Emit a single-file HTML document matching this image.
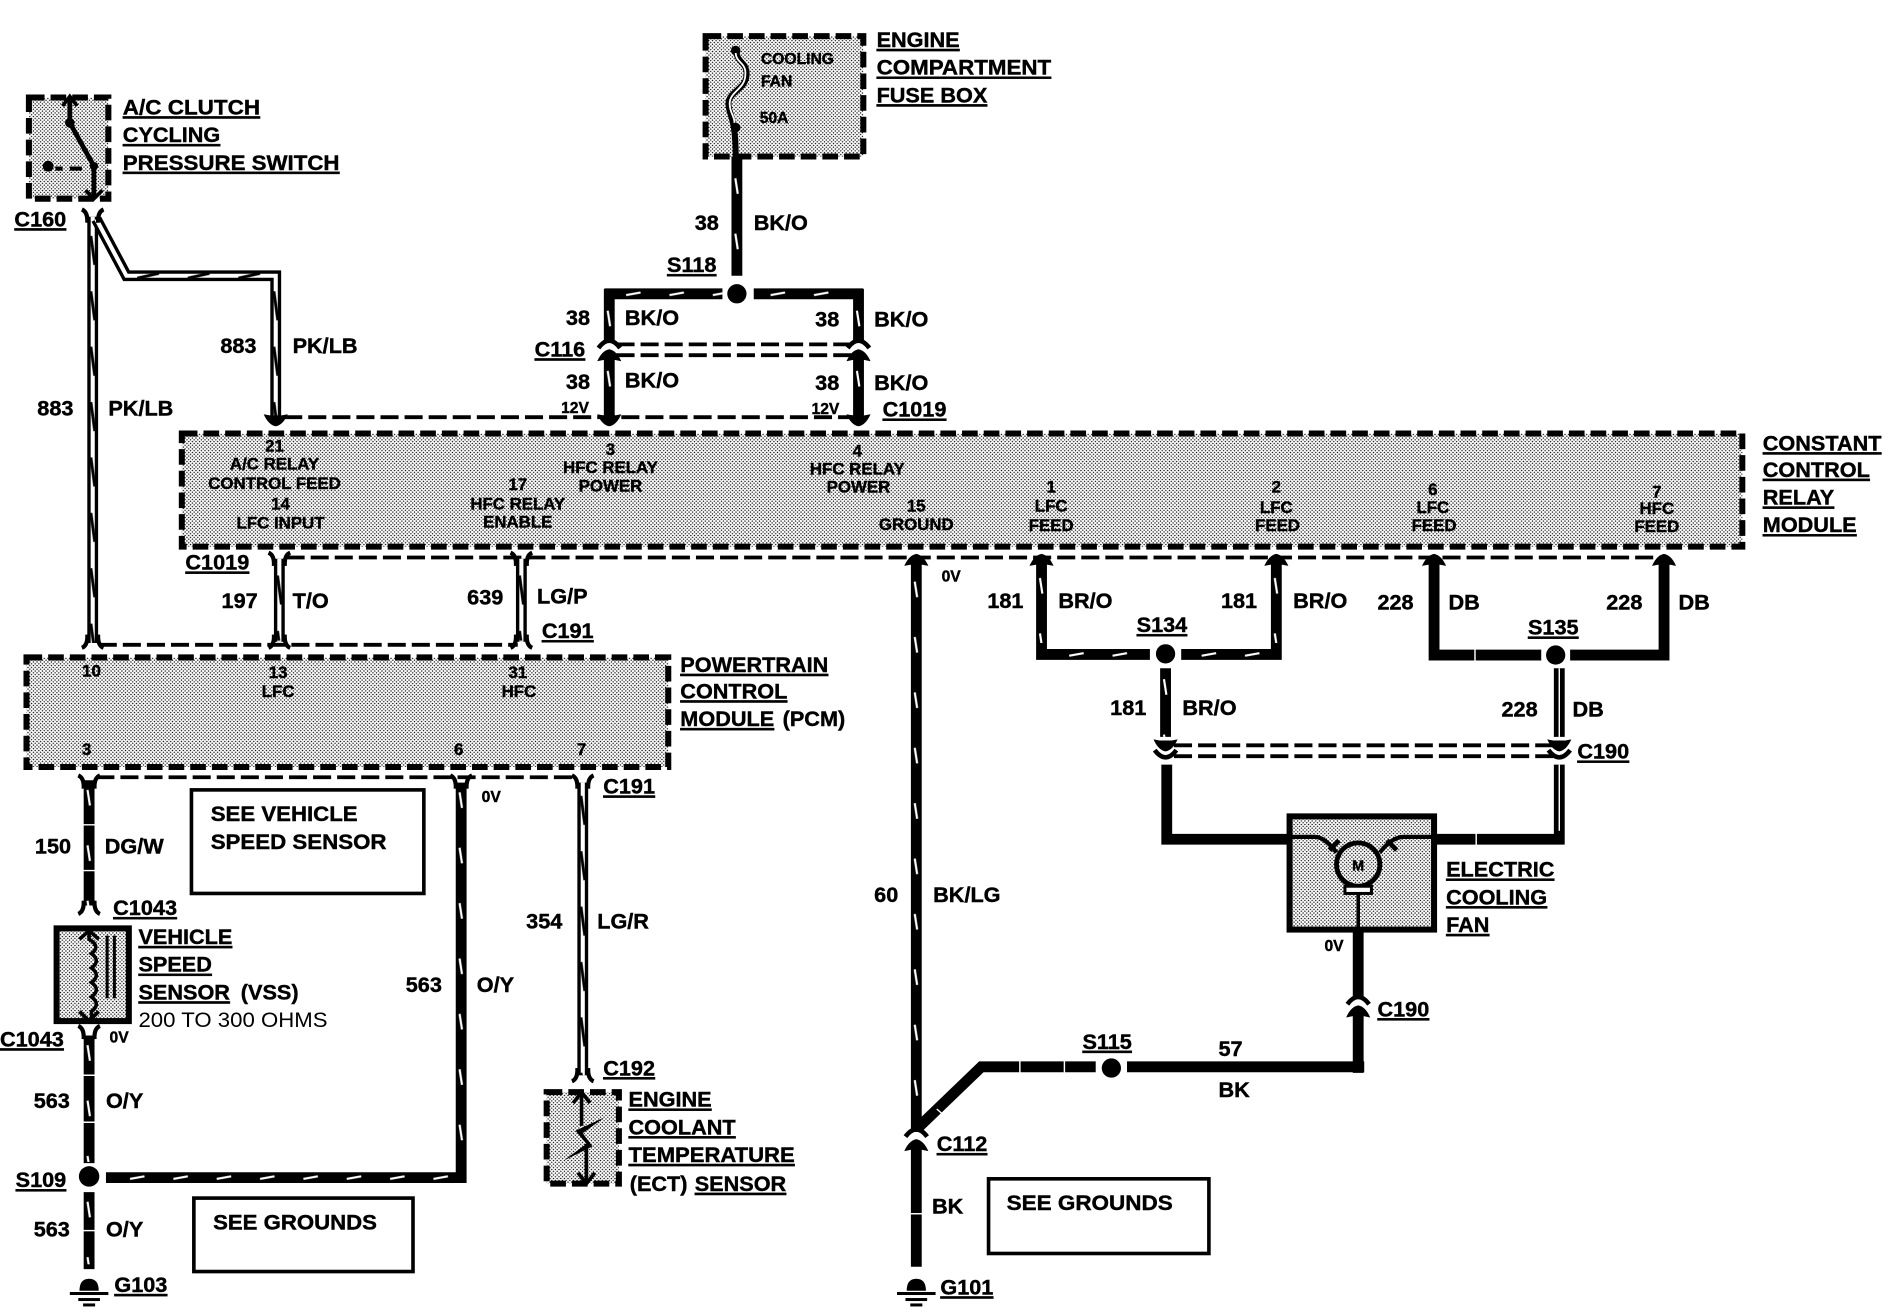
<!DOCTYPE html>
<html><head><meta charset="utf-8"><title>Cooling fan wiring diagram</title>
<style>
html,body{margin:0;padding:0;background:#fff;width:1888px;height:1312px;overflow:hidden}
svg{display:block}
text{font-family:"Liberation Sans",sans-serif;font-weight:bold;font-size:18px;fill:#000;stroke:#000;stroke-width:.35px}
.u{text-decoration:underline}
.s{font-size:14px;text-anchor:middle}
.v{font-size:13px}
.r{font-weight:normal}
.w{stroke:#000;stroke-width:9;fill:none}
.h{stroke:#fff;stroke-width:3.4;fill:none}
.d{stroke:#000;stroke-width:3.2;stroke-dasharray:15 5;fill:none}
.b{fill:url(#st);stroke:#000;stroke-width:5;stroke-dasharray:13 5;stroke-linecap:butt}
.g{stroke:#fff;stroke-width:1.2;fill:none}
</style></head><body>
<svg width="1888" height="1312" viewBox="0 0 1568 1089.6" preserveAspectRatio="none" xmlns="http://www.w3.org/2000/svg">
<defs>
<pattern id="st" patternUnits="userSpaceOnUse" width="3" height="3">
<rect width="3" height="3" fill="#fff"/>
<circle cx=".75" cy=".75" r=".6" fill="#000"/><circle cx="2.25" cy="2.25" r=".6" fill="#000"/>
</pattern>
<pattern id="tv" patternUnits="userSpaceOnUse" width="9" height="46"><path d="M3.2 8L5.2 21" stroke="#fff" stroke-width="1.8"/></pattern>
<pattern id="th" patternUnits="userSpaceOnUse" width="36" height="9"><path d="M8 5.6L20 3.4" stroke="#fff" stroke-width="1.8"/></pattern>
<pattern id="kv" patternUnits="userSpaceOnUse" width="9" height="46"><path d="M3 6L6.2 30" stroke="#000" stroke-width="2.4"/></pattern>
<pattern id="kh" patternUnits="userSpaceOnUse" width="42" height="9"><path d="M6 6.5L24 2.5" stroke="#000" stroke-width="2.4"/></pattern>
<path id="au" d="M0 -6Q6 -5 10 4L5 3L-5 3L-10 4Q-6 -5 0 -6Z"/>
<path id="ad" d="M0 6Q6 5 10 -4L5 -3L-5 -3L-10 -4Q-6 5 0 6Z"/>
<path id="ct" d="M-9 4Q0 -8 9 4" fill="none" stroke="#000" stroke-width="3.8"/>
<path id="cb" d="M-9 -4Q0 8 9 -4" fill="none" stroke="#000" stroke-width="3.8"/>
<path id="fb" d="M-9 4Q-4 2 -4.5 -7M9 4Q4 2 4.5 -7" fill="none" stroke="#000" stroke-width="3.5"/>
<path id="ft" d="M-9 -4Q-4 -2 -4.5 7M9 -4Q4 -2 4.5 7" fill="none" stroke="#000" stroke-width="3.5"/>
<g id="gnd"><path d="M-8 0Q-8 -10 0 -10Q8 -10 8 0Z"/><rect x="-16" y="1" width="32" height="2.5"/><rect x="-9" y="6" width="18" height="2.5"/><rect x="-5" y="10.5" width="10" height="2.5"/></g>
</defs>

<!-- component boxes -->
<rect class="b" x="24" y="81" width="66" height="84"/>
<rect class="b" x="586" y="30" width="131" height="100"/>
<rect class="b" x="151" y="360" width="1296" height="94"/>
<rect class="b" x="22" y="546" width="533" height="91"/>
<rect x="1071" y="678" width="120" height="94" fill="url(#st)" stroke="#000" stroke-width="5"/>
<rect x="47" y="771" width="60" height="77" fill="url(#st)" stroke="#000" stroke-width="5"/>
<rect class="b" x="454" y="907" width="60" height="76"/>

<!-- information boxes -->
<rect x="159" y="656" width="193" height="86" fill="#fff" stroke="#000" stroke-width="3"/>
<rect x="161" y="995" width="182" height="61" fill="#fff" stroke="#000" stroke-width="3"/>
<rect x="821" y="979" width="183" height="62" fill="#fff" stroke="#000" stroke-width="3"/>

<!-- dashed connector lines -->
<path class="d" d="M236 346.5H710"/>
<path class="d" d="M512 286H708M512 295H708"/>
<path class="d" d="M238 463H1382"/>
<path class="d" d="M82 535.5H430"/>
<path class="d" d="M80 645.5H480"/>
<path class="d" d="M975 619H1290M975 628H1290"/>

<!-- 883 wires -->
<path class="w" d="M77 180V534"/><path class="h" d="M77 180V534"/>
<rect transform="translate(72.5,190)" width="9" height="344" fill="url(#kv)"/>
<path class="w" d="M80 182L105 229H229V346"/><path class="h" d="M80 182L105 229H229V346"/>
<rect transform="translate(108,224.5)" width="120" height="9" fill="url(#kh)"/>
<rect transform="translate(224.5,236)" width="9" height="110" fill="url(#kv)"/>
<!-- 197 / 639 / 354 -->
<path class="w" d="M232 464V533"/><path class="h" d="M232 464V533"/><rect transform="translate(227.5,472)" width="9" height="60" fill="url(#kv)"/>
<path class="w" d="M433 464V533"/><path class="h" d="M433 464V533"/><rect transform="translate(428.5,472)" width="9" height="60" fill="url(#kv)"/>
<path class="w" d="M484 650V893"/><path class="h" d="M484 650V893"/><rect transform="translate(479.5,655)" width="9" height="238" fill="url(#kv)"/>

<!-- 38 wires -->
<path class="w" d="M612 130V229"/><rect transform="translate(607.5,140)" width="9" height="89" fill="url(#tv)"/>
<path class="w" d="M502 244H600"/><path class="w" d="M626 244H717"/>
<path class="w" d="M506 240V284"/><path class="w" d="M713 240V284"/>
<path class="w" d="M506 296V346"/><path class="w" d="M713 296V346"/>
<rect transform="translate(512,239.5)" width="88" height="9" fill="url(#th)"/>
<rect transform="translate(632,239.5)" width="78" height="9" fill="url(#th)"/>
<rect transform="translate(501.5,250)" width="9" height="30" fill="url(#tv)"/>
<rect transform="translate(708.5,250)" width="9" height="30" fill="url(#tv)"/>
<rect transform="translate(501.5,300)" width="9" height="35" fill="url(#tv)"/>
<rect transform="translate(708.5,300)" width="9" height="35" fill="url(#tv)"/>
<circle cx="612" cy="244" r="8"/>

<!-- 60 wire and ground branch -->
<path class="w" d="M761 466V940"/><rect transform="translate(756.5,475)" width="9" height="460" fill="url(#tv)"/>
<path class="w" d="M763 936L815 886H910"/>
<path class="g" d="M778 921L786 928M847 880V892M884 880V892"/>
<path class="w" d="M936 886H1133"/><circle cx="923" cy="887" r="8"/>
<path class="w" d="M1128 891V840"/><path class="w" d="M1128 828V772"/>
<path class="w" d="M761 952V1052"/><path class="g" d="M755 1008H767"/>
<use href="#gnd" x="761" y="1072"/>

<!-- 181 / 228 -->
<path class="w" d="M865 466V543.5H955"/><path class="w" d="M981 543.5H1060V466"/>
<rect transform="translate(860.5,472)" width="9" height="62" fill="url(#tv)"/>
<rect transform="translate(1055.5,472)" width="9" height="62" fill="url(#tv)"/>
<rect transform="translate(880,539)" width="70" height="9" fill="url(#th)"/>
<rect transform="translate(990,539)" width="62" height="9" fill="url(#th)"/>
<circle cx="968" cy="543" r="8"/>
<path class="w" d="M1191 466V544H1280"/><path class="w" d="M1304 544H1382V466"/><path class="g" d="M1225 538V549"/>
<circle cx="1292" cy="544" r="8"/>
<path class="w" d="M968 555V612"/><rect transform="translate(963.5,556)" width="9" height="56" fill="url(#tv)"/>
<path class="w" d="M1295 555V612"/><path class="g" d="M1295 555V612"/>
<path class="w" d="M969 635V697H1072"/><path class="w" d="M1190 697H1295V635"/><path class="g" d="M1295 635V690"/><path class="g" d="M1226 692V702"/>

<!-- PCM lower wires -->
<path class="w" d="M74 648V752"/><rect transform="translate(69.5,648)" width="9" height="104" fill="url(#tv)"/><path class="g" d="M69 685H79M69 723H79"/>
<path class="w" d="M383 650V978H88"/><rect transform="translate(378.5,650)" width="9" height="320" fill="url(#tv)"/>
<rect transform="translate(100,973.5)" width="275" height="9" fill="url(#th)"/>
<path class="w" d="M74 860V966"/><rect transform="translate(69.5,860)" width="9" height="105" fill="url(#tv)"/><path class="g" d="M69 893H79M69 932H79"/>
<path class="w" d="M74 990V1054"/><rect transform="translate(69.5,990)" width="9" height="60" fill="url(#tv)"/><path class="g" d="M69 1022H79"/>
<circle cx="74" cy="977" r="8.5"/>
<use href="#gnd" x="74" y="1072"/>

<!-- connector ends -->
<use href="#ct" x="506" y="285"/><use href="#au" x="506" y="296"/>
<use href="#ct" x="713" y="285"/><use href="#au" x="713" y="296"/>
<use href="#ad" x="229" y="348"/><use href="#ad" x="506" y="348"/><use href="#ad" x="713" y="348"/>
<use href="#ft" x="77" y="178"/>
<use href="#ft" x="232" y="463"/><use href="#ft" x="433" y="463"/>
<use href="#fb" x="77" y="534"/><use href="#fb" x="232" y="534"/><use href="#fb" x="433" y="534"/>
<use href="#au" x="761" y="466"/><use href="#au" x="865" y="466"/><use href="#au" x="1060" y="466"/><use href="#au" x="1191" y="466"/><use href="#au" x="1382" y="466"/>
<use href="#ft" x="74" y="648"/><use href="#ft" x="383" y="648"/><use href="#ft" x="484" y="648"/>
<use href="#fb" x="74" y="755"/><use href="#ft" x="74" y="856"/>
<use href="#fb" x="484" y="894"/>
<use href="#ad" x="968" y="618"/><use href="#cb" x="968" y="627"/>
<use href="#ad" x="1295" y="618"/><use href="#cb" x="1295" y="627"/>
<use href="#ct" x="1128" y="830"/><use href="#au" x="1128" y="841"/>
<use href="#ct" x="761" y="940"/><use href="#au" x="761" y="952"/>

<!-- switch internals -->
<path d="M58 82V102L78 138V163" fill="none" stroke="#000" stroke-width="4"/>
<path d="M52 88L58 80L64 88" fill="none" stroke="#000" stroke-width="3"/>
<circle cx="58" cy="102" r="4"/><circle cx="78" cy="138" r="3.5"/><circle cx="40" cy="138" r="4.5"/>
<path d="M46 140H52M58 140H68" stroke="#000" stroke-width="3.5"/>
<path d="M71 158L78 165L85 158" fill="none" stroke="#000" stroke-width="3"/>
<!-- fuse internals -->
<circle cx="611" cy="42" r="4"/><circle cx="611" cy="106" r="4"/>
<path d="M611 40C611 52 621 52 620 62C620 74 605 76 605 86C605 96 611 96 611 130" fill="none" stroke="#000" stroke-width="5"/>
<path d="M611 44C611 52 620 52 619 62C619 74 606 76 606 86C606 94 610 96 610 102" fill="none" stroke="#fff" stroke-width="1.5"/>
<!-- motor internals -->
<circle cx="1128" cy="718" r="18" fill="url(#st)" stroke="#000" stroke-width="4"/>
<path d="M1072 695H1092Q1100 695 1110 708M1190 695H1166Q1156 695 1146 708" fill="none" stroke="#000" stroke-width="3.5"/>
<path d="M1104 706L1112 698M1152 698L1160 706" stroke="#000" stroke-width="4"/>
<rect x="1117" y="736" width="22" height="6" fill="#fff" stroke="#000" stroke-width="2.5"/>
<path d="M1128 742V772" stroke="#000" stroke-width="3"/>
<!-- VSS internals -->
<path d="M74 773V780Q84 786 76 792Q84 798 76 804Q84 810 76 816Q84 822 76 828Q84 834 76 840V846" fill="none" stroke="#000" stroke-width="3"/>
<path d="M66 780L74 773L82 780M66 840L74 848L82 840" fill="none" stroke="#000" stroke-width="3"/>
<path d="M89 777V829M95 777V829" stroke="#000" stroke-width="2.5"/>
<!-- ECT internals -->
<path d="M483 908V935M487 950V982" stroke="#000" stroke-width="3"/>
<path d="M476 916L483 907L490 916M480 974L487 983L494 974" fill="none" stroke="#000" stroke-width="3"/>
<path d="M502 928L478 939L487 950L468 964L492 952L484 941Z"/>

<!-- labels -->
<text class="u" x="102" y="95" textLength="114" lengthAdjust="spacingAndGlyphs">A/C CLUTCH</text>
<text class="u" x="102" y="118">CYCLING</text>
<text class="u" x="102" y="141" textLength="180" lengthAdjust="spacingAndGlyphs">PRESSURE SWITCH</text>
<text class="u" x="12" y="188">C160</text>
<text class="u" x="728" y="39">ENGINE</text>
<text class="u" x="728" y="62" textLength="145" lengthAdjust="spacingAndGlyphs">COMPARTMENT</text>
<text class="u" x="728" y="85">FUSE BOX</text>
<text x="577" y="191">38</text><text x="626" y="191">BK/O</text>
<text class="u" x="554" y="226">S118</text>
<text x="470" y="270">38</text><text x="519" y="270">BK/O</text>
<text x="677" y="271">38</text><text x="726" y="271">BK/O</text>
<text class="u" x="444" y="296">C116</text>
<text x="470" y="323">38</text><text x="519" y="322">BK/O</text>
<text x="677" y="324">38</text><text x="726" y="324">BK/O</text>
<text class="v" x="466" y="343">12V</text><text class="v" x="674" y="344">12V</text>
<text class="u" x="733" y="346">C1019</text>
<text x="183" y="293">883</text><text x="243" y="293">PK/LB</text>
<text x="31" y="345">883</text><text x="90" y="345">PK/LB</text>

<text class="s" x="228" y="375">21</text><text class="s" x="228" y="390">A/C RELAY</text><text class="s" x="228" y="406">CONTROL FEED</text>
<text class="s" x="233" y="423">14</text><text class="s" x="233" y="439">LFC INPUT</text>
<text class="s" x="507" y="378">3</text><text class="s" x="507" y="393">HFC RELAY</text><text class="s" x="507" y="408">POWER</text>
<text class="s" x="430" y="407">17</text><text class="s" x="430" y="423">HFC RELAY</text><text class="s" x="430" y="438">ENABLE</text>
<text class="s" x="712" y="379">4</text><text class="s" x="712" y="394">HFC RELAY</text><text class="s" x="713" y="409">POWER</text>
<text class="s" x="761" y="425">15</text><text class="s" x="761" y="440">GROUND</text>
<text class="s" x="873" y="409">1</text><text class="s" x="873" y="425">LFC</text><text class="s" x="873" y="441">FEED</text>
<text class="s" x="1060" y="409">2</text><text class="s" x="1060" y="426">LFC</text><text class="s" x="1061" y="441">FEED</text>
<text class="s" x="1190" y="411">6</text><text class="s" x="1190" y="426">LFC</text><text class="s" x="1191" y="441">FEED</text>
<text class="s" x="1376" y="413">7</text><text class="s" x="1376" y="427">HFC</text><text class="s" x="1376" y="442">FEED</text>

<text class="u" x="1464" y="374">CONSTANT</text><text class="u" x="1464" y="396">CONTROL</text>
<text class="u" x="1464" y="419">RELAY</text><text class="u" x="1464" y="442">MODULE</text>

<text class="u" x="154" y="473">C1019</text>
<text x="184" y="505">197</text><text x="243" y="505">T/O</text>
<text x="388" y="502">639</text><text x="446" y="501">LG/P</text>
<text class="u" x="450" y="530">C191</text>
<text class="v" x="782" y="483">0V</text>
<text x="820" y="505">181</text><text x="879" y="505">BR/O</text>
<text x="1014" y="505">181</text><text x="1074" y="505">BR/O</text>
<text class="u" x="944" y="525">S134</text>
<text x="1144" y="506">228</text><text x="1203" y="506">DB</text>
<text x="1334" y="506">228</text><text x="1394" y="506">DB</text>
<text class="u" x="1269" y="527">S135</text>
<text x="922" y="594">181</text><text x="982" y="594">BR/O</text>
<text x="1247" y="595">228</text><text x="1306" y="595">DB</text>
<text class="u" x="1310" y="630">C190</text>

<text class="u" x="565" y="558">POWERTRAIN</text>
<text class="u" x="565" y="580">CONTROL</text>
<text class="u" x="565" y="603">MODULE</text><text x="650" y="603">(PCM)</text>
<text class="s" x="76" y="562">10</text><text class="s" x="231" y="563">13</text><text class="s" x="231" y="579">LFC</text>
<text class="s" x="430" y="563">31</text><text class="s" x="431" y="579">HFC</text>
<text class="s" x="72" y="627">3</text><text class="s" x="381" y="627">6</text><text class="s" x="483" y="627">7</text>
<text class="u" x="501" y="659">C191</text>
<text class="v" x="400" y="666">0V</text>
<text x="175" y="682" textLength="122" lengthAdjust="spacingAndGlyphs">SEE VEHICLE</text>
<text x="175" y="705" textLength="146" lengthAdjust="spacingAndGlyphs">SPEED SENSOR</text>
<text x="29" y="709">150</text><text x="87" y="709">DG/W</text>
<text class="u" x="94" y="760">C1043</text>
<text class="u" x="115" y="784">VEHICLE</text><text class="u" x="115" y="807">SPEED</text>
<text class="u" x="115" y="830">SENSOR</text><text x="200" y="830">(VSS)</text>
<text class="r" style="stroke:none" x="115" y="853" textLength="157" lengthAdjust="spacingAndGlyphs">200 TO 300 OHMS</text>
<text class="u" x="0" y="869">C1043</text>
<text class="v" x="91" y="866">0V</text>
<text x="337" y="824">563</text><text x="396" y="824">O/Y</text>
<text x="437" y="771">354</text><text x="496" y="771">LG/R</text>
<text x="726" y="749">60</text><text x="775" y="749">BK/LG</text>
<text x="28" y="920">563</text><text x="88" y="920">O/Y</text>
<text class="u" x="13" y="986">S109</text>
<text x="28" y="1027">563</text><text x="88" y="1027">O/Y</text>
<text class="u" x="95" y="1073">G103</text>
<text x="177" y="1021" textLength="136" lengthAdjust="spacingAndGlyphs">SEE GROUNDS</text>
<text class="u" x="501" y="893">C192</text>
<text class="u" x="522" y="919">ENGINE</text><text class="u" x="522" y="942">COOLANT</text>
<text class="u" x="522" y="965" textLength="138" lengthAdjust="spacingAndGlyphs">TEMPERATURE</text>
<text x="523" y="989">(ECT)</text><text class="u" x="577" y="989">SENSOR</text>
<text class="u" x="778" y="956">C112</text>
<text x="774" y="1008">BK</text>
<text x="836" y="1005" textLength="138" lengthAdjust="spacingAndGlyphs">SEE GROUNDS</text>
<text class="u" x="781" y="1075">G101</text>
<text x="1012" y="877">57</text><text x="1012" y="911">BK</text>
<text class="u" x="899" y="871">S115</text>
<text class="u" x="1144" y="844">C190</text>
<text class="u" x="1201" y="728">ELECTRIC</text><text class="u" x="1201" y="751">COOLING</text><text class="u" x="1201" y="774">FAN</text>
<text class="v" x="1100" y="790">0V</text>
<text x="632" y="53" style="font-size:13px">COOLING</text>
<text x="632" y="72" style="font-size:13px">FAN</text>
<text x="631" y="102" style="font-size:13px">50A</text>
<text x="1128" y="723" style="font-size:12px;text-anchor:middle">M</text>
</svg>
</body></html>
